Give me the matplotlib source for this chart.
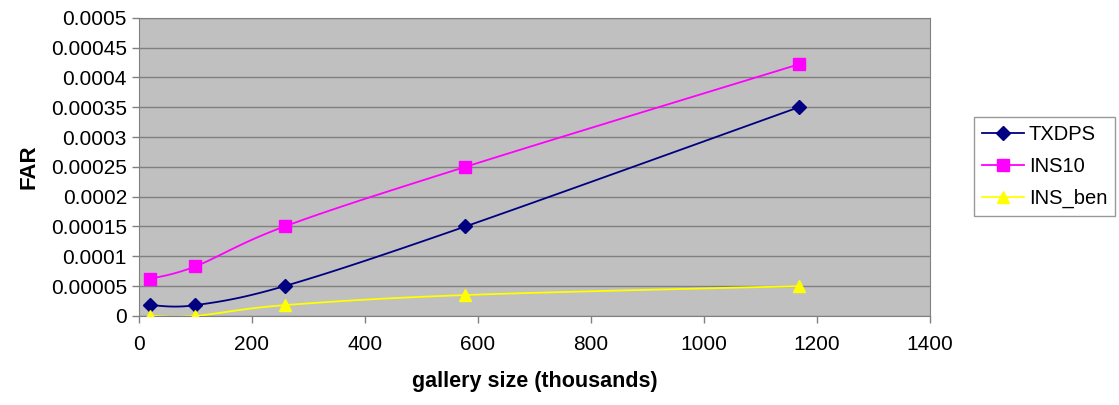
import numpy as np
import matplotlib
matplotlib.use("Agg")
import matplotlib.pyplot as plt

plt.rcParams['font.family'] = ['Liberation Sans', 'DejaVu Sans']

# data
gallery_size = [20, 100, 258, 578, 1168]
txdps = [0.000018, 0.000018, 0.00005, 0.00015, 0.00035]
ins10 = [0.000062, 0.000083, 0.00015, 0.00025, 0.000422]
ins_ben = [0.0, 0.0, 0.000018, 0.000035, 0.00005]

y_ticks = [0, 0.00005, 0.0001, 0.00015, 0.0002, 0.00025, 0.0003, 0.00035, 0.0004, 0.00045, 0.0005]
y_tick_labels = ['0', '0.00005', '0.0001', '0.00015', '0.0002', '0.00025', '0.0003',
                 '0.00035', '0.0004', '0.00045', '0.0005']
x_ticks = [0, 200, 400, 600, 800, 1000, 1200, 1400]


def smooth(x, y, n=30):
    # Catmull-Rom style curve through the points, like Excel's smoothed lines
    x = np.asarray(x, float)
    y = np.asarray(y, float)
    px = np.concatenate([[x[0]], x, [x[-1]]])
    py = np.concatenate([[y[0]], y, [y[-1]]])
    xs, ys = [], []
    for i in range(1, len(px) - 2):
        t = np.linspace(0, 1, n)
        for arr, out in ((px, xs), (py, ys)):
            p0, p1, p2, p3 = arr[i - 1], arr[i], arr[i + 1], arr[i + 2]
            out.extend(0.5 * ((2 * p1) + (-p0 + p2) * t
                              + (2 * p0 - 5 * p1 + 4 * p2 - p3) * t ** 2
                              + (-p0 + 3 * p1 - 3 * p2 + p3) * t ** 3))
    return xs, ys


fig = plt.figure(figsize=(11.19, 4.05), dpi=100)
ax = fig.add_axes([0.124, 0.22, 0.707, 0.736])
ax.set_facecolor('#c0c0c0')

series = [
    ('TXDPS', txdps, '#000080', 'D', 7),
    ('INS10', ins10, '#ff00ff', 's', 8),
    ('INS_ben', ins_ben, '#ffff00', '^', 9),
]
for name, vals, col, mk, ms in series:
    sx, sy = smooth(gallery_size, vals)
    ax.plot(sx, sy, color=col, lw=1.3, zorder=3)
    ax.plot(gallery_size, vals, ls='none', marker=mk, ms=ms, color=col, zorder=4)
    # proxy for legend
    ax.plot([], [], color=col, lw=1.3, marker=mk, ms=ms, label=name)

ax.set_xlim(0, 1400)
ax.set_ylim(0, 0.0005)
ax.set_xticks(x_ticks)
ax.set_yticks(y_ticks)
ax.set_yticklabels(y_tick_labels)
ax.tick_params(labelsize=15, length=5, color='#808080', width=1)
ax.tick_params(axis='x', pad=9)
ax.yaxis.grid(True, color='#808080', lw=1)
ax.set_axisbelow(True)
for s in ['top', 'right', 'left', 'bottom']:
    ax.spines[s].set_color('#808080')

ax.set_xlabel('gallery size (thousands)', fontsize=15.5, fontweight='bold', labelpad=12)
ax.set_ylabel('FAR', fontsize=16, fontweight='bold', labelpad=8)

handles, labels = ax.get_legend_handles_labels()
leg = fig.legend(handles, labels, loc='upper left', bbox_to_anchor=(0.870, 0.712),
                 fontsize=14.5, frameon=True, fancybox=False, edgecolor='#808080',
                 borderpad=0.4, labelspacing=0.65, handlelength=2.1, handletextpad=0.25,
                 borderaxespad=0)
leg.get_frame().set_linewidth(1)

fig.savefig('out.png', dpi=100)
